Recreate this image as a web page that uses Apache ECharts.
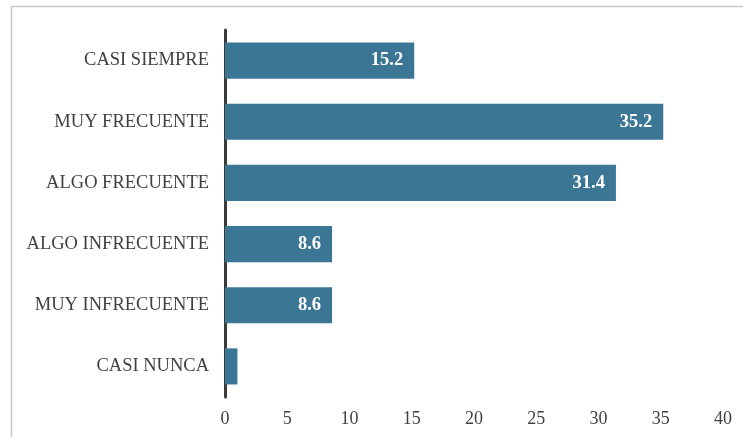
<!DOCTYPE html>
<html>
<head>
<meta charset="utf-8">
<script src="https://cdn.jsdelivr.net/npm/echarts@6/dist/echarts.min.js"></script>
<style>
  html, body { margin: 0; padding: 0; background: #fff; }
  #chart { width: 743px; height: 437px; }
</style>
</head>
<body>
<div id="chart"></div>
<script>
  const categories = ["CASI NUNCA", "MUY INFRECUENTE", "ALGO INFRECUENTE", "ALGO FRECUENTE", "MUY FRECUENTE", "CASI SIEMPRE"];
  const values = [1.0, 8.6, 8.6, 31.4, 35.2, 15.2];
  const showLabel = [false, true, true, true, true, true];

  const barColor = "#3b7794";
  const fontFam = "'Liberation Serif', 'DejaVu Serif', serif";

  var myChart = echarts.init(document.getElementById("chart"));
  const option = {
    animation: false,
    textStyle: { fontFamily: fontFam },
    graphic: [
      {
        type: "rect",
        shape: { x: 11.5, y: 6.5, width: 800, height: 500 },
        style: { fill: "none", stroke: "#c8c8c8", lineWidth: 1.5 },
        silent: true,
      },
    ],
    grid: { left: 225, right: 20, top: 30, bottom: 40, containLabel: false },
    xAxis: {
      type: "value",
      min: 0,
      max: 40,
      interval: 5,
      axisLine: { show: false },
      axisTick: { show: false },
      splitLine: { show: false },
      axisLabel: { color: "#404040", fontSize: 18, fontFamily: fontFam, margin: 13 },
    },
    yAxis: {
      type: "category",
      data: categories,
      axisLine: { show: true, lineStyle: { color: "#3a3a3a", width: 3 } },
      axisTick: { show: false },
      axisLabel: { color: "#404040", fontSize: 18.5, fontFamily: fontFam, margin: 16 },
    },
    series: [
      {
        type: "bar",
        barCategoryGap: "41%",
        itemStyle: { color: barColor },
        data: values.map((v, i) => ({
          value: v,
          label: { show: showLabel[i] },
        })),
        label: {
          position: "insideRight",
          distance: 11,
          color: "#fff",
          fontWeight: "bold",
          fontSize: 18.5,
          fontFamily: fontFam,
          formatter: (p) => p.value.toFixed(1),
        },
      },
    ],
  };
  myChart.setOption(option);
</script>
</body>
</html>
